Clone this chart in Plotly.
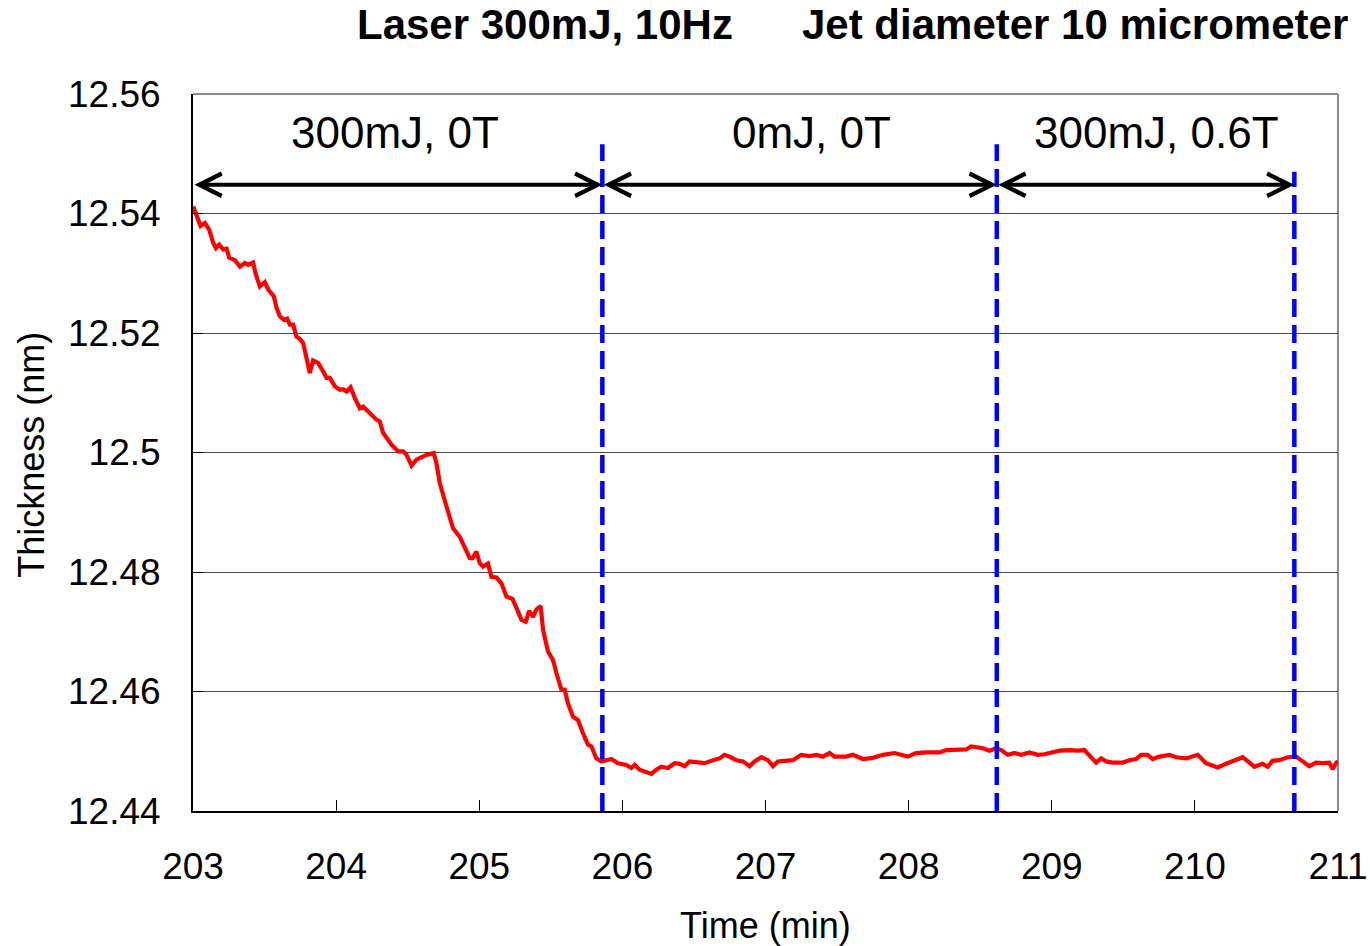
import plotly.graph_objects as go

# ---------------- data ----------------
time_min = [
    203.001, 203.053, 203.083, 203.113, 203.141, 203.160, 203.183, 203.211, 203.235, 203.253,
    203.293, 203.328, 203.362, 203.385, 203.420, 203.439, 203.467, 203.502, 203.525, 203.565,
    203.584, 203.607, 203.635, 203.658, 203.677, 203.700, 203.723, 203.747, 203.770, 203.793,
    203.816, 203.839, 203.874, 203.909, 203.933, 203.956, 203.991, 204.026, 204.049, 204.073,
    204.101, 204.131, 204.166, 204.189, 204.247, 204.282, 204.305, 204.328, 204.387, 204.433,
    204.468, 204.492, 204.527, 204.561, 204.631, 204.682, 204.701, 204.724, 204.771, 204.817,
    204.864, 204.887, 204.934, 204.953, 204.980, 205.003, 205.027, 205.061, 205.085, 205.120,
    205.155, 205.190, 205.232, 205.260, 205.295, 205.325, 205.348, 205.376, 205.399, 205.429,
    205.446, 205.480, 205.515, 205.539, 205.574, 205.597, 205.620, 205.655, 205.690, 205.725,
    205.760, 205.784, 205.818, 205.853, 205.888, 205.923, 205.969, 206.028, 206.063, 206.086,
    206.121, 206.168, 206.203, 206.237, 206.272, 206.318, 206.365, 206.400, 206.435, 206.470,
    206.528, 206.575, 206.633, 206.679, 206.714, 206.749, 206.796, 206.842, 206.889, 206.924,
    206.971, 207.017, 207.052, 207.087, 207.133, 207.191, 207.250, 207.308, 207.355, 207.401,
    207.448, 207.483, 207.564, 207.610, 207.680, 207.750, 207.820, 207.902, 207.994, 208.053,
    208.123, 208.216, 208.263, 208.332, 208.402, 208.437, 208.518, 208.565, 208.612, 208.647,
    208.693, 208.740, 208.786, 208.844, 208.902, 208.949, 208.996, 209.054, 209.124, 209.182,
    209.228, 209.263, 209.310, 209.345, 209.380, 209.426, 209.496, 209.543, 209.589, 209.624,
    209.670, 209.705, 209.752, 209.822, 209.869, 209.939, 210.020, 210.078, 210.159, 210.218,
    210.288, 210.334, 210.381, 210.416, 210.473, 210.508, 210.543, 210.590, 210.648, 210.707,
    210.753, 210.800, 210.846, 210.893, 210.939, 210.962, 210.986, 211.000,
]
thickness_nm = [
    12.5412, 12.5379, 12.5384, 12.5373, 12.5351, 12.5342, 12.5348, 12.5340, 12.5341, 12.5326,
    12.5322, 12.5311, 12.5317, 12.5314, 12.5318, 12.5298, 12.5278, 12.5285, 12.5273, 12.5261,
    12.5242, 12.5228, 12.5222, 12.5224, 12.5214, 12.5214, 12.5194, 12.5190, 12.5183, 12.5155,
    12.5133, 12.5154, 12.5150, 12.5136, 12.5125, 12.5125, 12.5111, 12.5105, 12.5106, 12.5102,
    12.5109, 12.5091, 12.5074, 12.5077, 12.5063, 12.5055, 12.5052, 12.5033, 12.5013, 12.5002,
    12.5002, 12.4996, 12.4978, 12.4988, 12.4996, 12.4999, 12.4982, 12.4949, 12.4910, 12.4873,
    12.4859, 12.4846, 12.4823, 12.4823, 12.4834, 12.4815, 12.4809, 12.4814, 12.4792, 12.4791,
    12.4781, 12.4759, 12.4755, 12.4740, 12.4720, 12.4717, 12.4735, 12.4725, 12.4737, 12.4743,
    12.4703, 12.4667, 12.4653, 12.4631, 12.4603, 12.4603, 12.4580, 12.4558, 12.4552, 12.4530,
    12.4511, 12.4508, 12.4488, 12.4483, 12.4485, 12.4487, 12.4480, 12.4477, 12.4472, 12.4477,
    12.4469, 12.4466, 12.4462, 12.4469, 12.4474, 12.4472, 12.4480, 12.4479, 12.4475, 12.4483,
    12.4481, 12.4480, 12.4485, 12.4488, 12.4494, 12.4491, 12.4485, 12.4483, 12.4475, 12.4483,
    12.4490, 12.4485, 12.4475, 12.4483, 12.4484, 12.4485, 12.4494, 12.4492, 12.4494, 12.4491,
    12.4497, 12.4491, 12.4491, 12.4494, 12.4487, 12.4489, 12.4494, 12.4497, 12.4491, 12.4497,
    12.4498, 12.4498, 12.4502, 12.4503, 12.4503, 12.4508, 12.4505, 12.4501, 12.4505, 12.4502,
    12.4494, 12.4497, 12.4494, 12.4498, 12.4494, 12.4495, 12.4498, 12.4501, 12.4502, 12.4501,
    12.4502, 12.4494, 12.4481, 12.4488, 12.4483, 12.4481, 12.4481, 12.4485, 12.4487, 12.4494,
    12.4494, 12.4487, 12.4491, 12.4494, 12.4490, 12.4488, 12.4494, 12.4480, 12.4473, 12.4479,
    12.4485, 12.4490, 12.4481, 12.4474, 12.4479, 12.4474, 12.4484, 12.4485, 12.4490, 12.4491,
    12.4483, 12.4475, 12.4481, 12.4480, 12.4481, 12.4470, 12.4480, 12.4483,
]

# phase boundaries (min) and top of the dashed markers (nm)
boundary_times = [205.86, 208.616, 210.695]
boundary_tops = [12.5516, 12.5516, 12.5470]

# phase segments for the double arrows and their labels
segment_starts = [203.0, 205.86, 208.616]
segment_ends = [205.86, 208.616, 210.695]
segment_labels = ["300mJ, 0T", "0mJ, 0T", "300mJ, 0.6T"]
label_times = [204.41, 207.32, 209.73]
arrow_level = 12.5448
label_level = 12.5536

x_ticks = [203, 204, 205, 206, 207, 208, 209, 210, 211]
x_tick_text = ["203", "204", "205", "206", "207", "208", "209", "210", "211"]
y_ticks = [12.44, 12.46, 12.48, 12.50, 12.52, 12.54, 12.56]
y_tick_text = ["12.44", "12.46", "12.48", "12.5", "12.52", "12.54", "12.56"]

title_left = "Laser 300mJ, 10Hz"
title_right = "Jet diameter 10 micrometer"

FONT = "Liberation Sans, Arial, sans-serif"

fig = go.Figure()

fig.add_trace(go.Scatter(
    x=time_min, y=thickness_nm, mode="lines",
    line=dict(color="#FF0000", width=4.2),
    showlegend=False, hoverinfo="skip",
))

for t, top in zip(boundary_times, boundary_tops):
    fig.add_trace(go.Scatter(
        x=[t, t], y=[y_ticks[0], top], mode="lines",
        line=dict(color="#0000FF", width=4.5, dash="18px,8px"),
        showlegend=False, hoverinfo="skip", cliponaxis=False,
    ))

annotations = []
for s, e in zip(segment_starts, segment_ends):
    annotations.append(dict(
        x=e, y=arrow_level, ax=s, ay=arrow_level, xref="x", yref="y",
        axref="x", ayref="y", text="", showarrow=True,
        arrowhead=5, startarrowhead=5, arrowside="end+start",
        arrowwidth=4, arrowsize=1.1, startarrowsize=1.1,
        arrowcolor="#000000", standoff=0, startstandoff=0,
    ))
for lx, lab in zip(label_times, segment_labels):
    annotations.append(dict(
        x=lx, y=label_level, xref="x", yref="y", text=lab,
        showarrow=False, font=dict(family=FONT, size=44, color="#000000"),
        xanchor="center", yanchor="middle",
    ))

annotations += [
    dict(x=(355 - 193) / 1145, y=(811 - 25) / 716.5, xref="paper", yref="paper",
         text="<b>%s</b>" % title_left, showarrow=False, xanchor="left", yanchor="middle",
         font=dict(family=FONT, size=42, color="#000000")),
    dict(x=(1350 - 193) / 1145, y=(811 - 25) / 716.5, xref="paper", yref="paper",
         text="<b>%s</b>" % title_right, showarrow=False, xanchor="right", yanchor="middle",
         font=dict(family=FONT, size=42, color="#000000")),
    dict(x=0.5, y=(811 - 925) / 716.5, xref="paper", yref="paper", text="Time (min)",
         showarrow=False, xanchor="center", yanchor="middle",
         font=dict(family=FONT, size=36, color="#000000")),
    dict(x=(32 - 193) / 1145, y=(811 - 455) / 716.5, xref="paper", yref="paper",
         text="Thickness (nm)", textangle=-90, showarrow=False,
         xanchor="center", yanchor="middle",
         font=dict(family=FONT, size=36, color="#000000")),
]

shapes = [
    dict(type="line", xref="paper", yref="paper", x0=0, x1=1, y0=1, y1=1,
         line=dict(color="#8c8c8c", width=2), layer="below"),
    dict(type="line", xref="paper", yref="paper", x0=1, x1=1, y0=0, y1=1,
         line=dict(color="#8c8c8c", width=2), layer="below"),
]

fig.update_layout(
    width=1370, height=946,
    margin=dict(l=193, r=32, t=94, b=135, pad=0, autoexpand=False),
    paper_bgcolor="#FFFFFF", plot_bgcolor="#FFFFFF",
    font=dict(family=FONT, color="#000000"),
    showlegend=False,
    annotations=annotations,
    shapes=shapes,
)

fig.update_xaxes(
    range=[203, 211], tickvals=x_ticks, ticktext=x_tick_text,
    ticks="inside", ticklen=11, tickwidth=1, tickcolor="#000000",
    tickfont=dict(family=FONT, size=37, color="#000000"),
    ticklabelstandoff=22, automargin=False,
    showgrid=False, zeroline=False,
    showline=True, linecolor="#000000", linewidth=2,
)
fig.update_yaxes(
    range=[12.44, 12.56], tickvals=y_ticks, ticktext=y_tick_text,
    ticks="inside", ticklen=10, tickwidth=1, tickcolor="#000000",
    tickfont=dict(family=FONT, size=37, color="#000000"),
    ticklabelstandoff=23, automargin=False,
    showgrid=True, gridcolor="#4a4a4a", gridwidth=1, zeroline=False,
    showline=True, linecolor="#000000", linewidth=2,
)

fig.write_html("out.html")
